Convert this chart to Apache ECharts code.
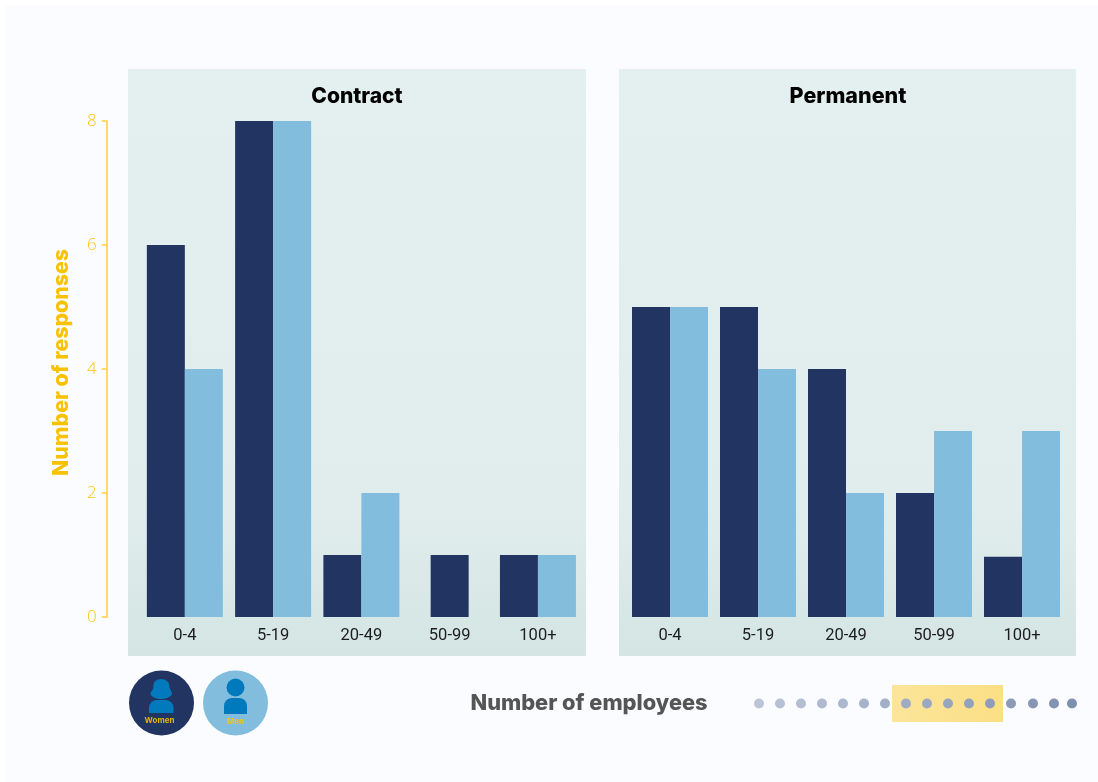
<!DOCTYPE html>
<html><head><meta charset="utf-8">
<style>html,body{margin:0;padding:0;background:#fff}#c{width:1098px;height:782px}</style>
<script src="https://cdn.jsdelivr.net/npm/echarts@6/dist/echarts.min.js"></script>
</head><body><div id="c"></div>
<script>
const categories = ['0-4','5-19','20-49','50-99','100+'];
const contractWomen = [6,8,1,null,1];
const contractMen = [4,8,2,null,1];
const contractWomenSolo = [null,null,null,1,null];
const permanentWomen = [5,5,4,2,0.97];
const permanentMen = [5,4,2,3,3];
const yTicks = [0,2,4,6,8];
const panelTitles = ['Contract','Permanent'];
const yTitle = 'Number of responses';
const xTitle = 'Number of employees';
const legendNames = ['Women','Men'];
const dotX = [759,780,801,822,843,864,885,906,927,948,969,990,1011,1033,1054,1072];

const NAVY='#213462', SKY='#82bddd', GOLD='#ffcd3c', GOLD_TEXT='#ffc414', ICON='#007abd';
const panelFill={type:'linear',x:0,y:0,x2:0,y2:1,colorStops:[{offset:0,color:'#e4f0ef'},{offset:.75,color:'#e0edec'},{offset:1,color:'#d4e5e4'}]};
const mix=(t)=>{const a=[187,197,216],b=[127,143,174];return 'rgb('+a.map((v,i)=>Math.round(v+(b[i]-v)*t)).join(',')+')'};
const HEAVY='Inter, Lato, sans-serif';

const xAxisBase=(g)=>({type:'category',gridIndex:g,data:categories,
  axisLine:{show:false},axisTick:{show:false},
  axisLabel:{margin:10,color:'#1d1d1d',fontSize:16.5,fontFamily:'Roboto, sans-serif',interval:0}});

const gfx=[
 {type:'rect',z:-10,shape:{x:0,y:0,width:1098,height:782},style:{fill:'#ffffff'}},
 {type:'rect',z:-9,shape:{x:5,y:5,width:1093,height:777},style:{fill:'#fbfcff'}},
 {type:'rect',z:-8,shape:{x:128,y:69,width:458,height:587},style:{fill:panelFill}},
 {type:'rect',z:-8,shape:{x:619,y:69,width:457,height:587},style:{fill:panelFill}},
 {type:'text',z:5,style:{x:357,y:97,text:panelTitles[0],fill:'#000',font:'800 21px '+HEAVY,textAlign:'center',textVerticalAlign:'middle'}},
 {type:'text',z:5,style:{x:848,y:97,text:panelTitles[1],fill:'#000',font:'800 21.5px '+HEAVY,textAlign:'center',textVerticalAlign:'middle'}},
 {type:'text',z:5,style:{x:589,y:703,text:xTitle,fill:'#555555',font:'800 21.8px '+HEAVY,textAlign:'center',textVerticalAlign:'middle'}},
 {type:'text',z:5,rotation:Math.PI/2,x:62,y:362.5,style:{x:0,y:0,text:yTitle,fill:'#f9c200',font:'800 21.3px '+HEAVY,textAlign:'center',textVerticalAlign:'middle'}},
 {type:'rect',z:1,shape:{x:892,y:685,width:111,height:37},style:{fill:{type:'linear',x:0,y:0,x2:1,y2:0,colorStops:[{offset:0,color:'#fce59b'},{offset:1,color:'#fbdf84'}]}}},
 ...dotX.map((x,i)=>({type:'circle',z:2,shape:{cx:x,cy:703.5,r:5},style:{fill:mix(i/(dotX.length-1))}})),
 {type:'circle',z:1,shape:{cx:161.5,cy:703,r:32.5},style:{fill:NAVY}},
 {type:'circle',z:1,shape:{cx:235.5,cy:703,r:32.5},style:{fill:SKY}},
 {type:'polygon',z:2,shape:{points:[[161,679],[168,682],[170,689],[172,694],[167,698],[161,699],[155,698],[150.5,694],[153,689],[154.5,682]],smooth:0.35},style:{fill:ICON}},
 {type:'rect',z:2,shape:{x:149,y:700,width:24.5,height:13,r:[8,8,0,0]},style:{fill:ICON}},
 {type:'circle',z:2,shape:{cx:235.5,cy:687.5,r:9},style:{fill:ICON}},
 {type:'rect',z:2,shape:{x:224,y:698,width:23,height:16,r:[8,8,0,0]},style:{fill:ICON}},
 {type:'text',z:5,style:{x:159.5,y:721,text:legendNames[0],fill:'#e6b800',font:'700 8px '+HEAVY,textAlign:'center',textVerticalAlign:'middle'}},
 {type:'text',z:5,style:{x:235.5,y:722,text:legendNames[1],fill:'#f2c41c',font:'700 8px '+HEAVY,textAlign:'center',textVerticalAlign:'middle'}}
];

const yBase=(g,show)=>({type:'value',gridIndex:g,min:0,max:8,interval:2,
  splitLine:{show:false},
  axisLine:{show:show,onZero:false,lineStyle:{color:GOLD,width:1.5}},
  axisTick:{show:show,length:5,lineStyle:{color:GOLD,width:1.5}},
  axisLabel:{show:show,margin:10,color:GOLD_TEXT,fontSize:17,fontWeight:300,fontFamily:'"Open Sans", sans-serif',
    formatter:(v)=>yTicks.includes(v)?String(v):''},
  offset:show?34:0});

const bar=(name,data,x,y,color)=>({name,type:'bar',xAxisIndex:x,yAxisIndex:y,data,barWidth:38,barGap:0,
  itemStyle:{color},silent:true});

const option={
 animation:false,
 graphic:gfx,
 grid:[
  {left:140.715,width:441.35,top:121,height:496},
  {left:626,width:440,top:121,height:496}
 ],
 xAxis:[xAxisBase(0),xAxisBase(1),{...xAxisBase(0),show:false}],
 yAxis:[yBase(0,true),yBase(1,false)],
 series:[
  bar('Women',contractWomen,0,0,NAVY),
  bar('Men',contractMen,0,0,SKY),
  bar('Women',contractWomenSolo,2,0,NAVY),
  bar('Women',permanentWomen,1,1,NAVY),
  bar('Men',permanentMen,1,1,SKY)
 ]
};
const chart=echarts.init(document.getElementById('c'),null,{renderer:'canvas'});
chart.setOption(option);
</script></body></html>
